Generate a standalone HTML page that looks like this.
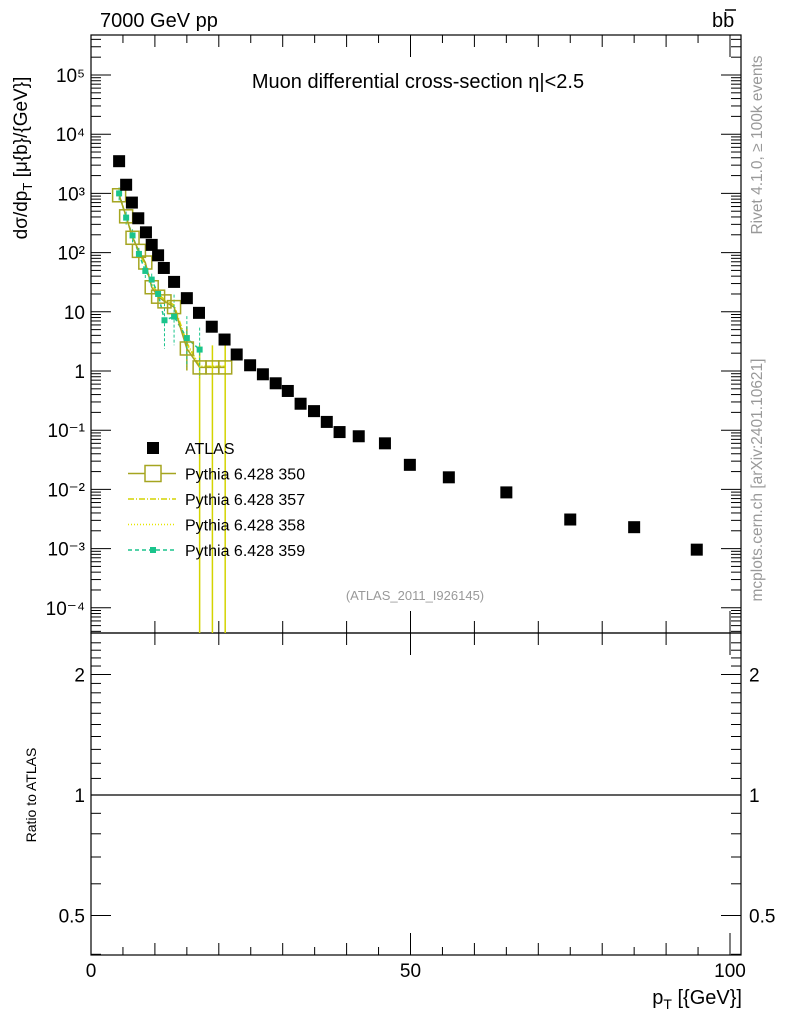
<!DOCTYPE html>
<html><head><meta charset="utf-8"><style>
body{margin:0;background:#fff}
svg{display:block;font-family:"Liberation Sans",sans-serif}
</style></head><body>
<svg id="c" width="786" height="1024" viewBox="0 0 786 1024" xmlns="http://www.w3.org/2000/svg">
<text x="100" y="27" font-size="20">7000 GeV pp</text>
<text x="712" y="27" font-size="20">bb</text>
<line x1="725" y1="10" x2="736" y2="10" stroke="#000" stroke-width="1.5"/>
<text x="418" y="88" font-size="20" text-anchor="middle">Muon differential cross-section η|&lt;2.5</text>
<text transform="translate(762,145) rotate(-90)" font-size="15.5" fill="#999" text-anchor="middle">Rivet 4.1.0, ≥ 100k events</text>
<text transform="translate(762,480) rotate(-90)" font-size="15.5" fill="#999" text-anchor="middle">mcplots.cern.ch [arXiv:2401.10621]</text>
<text transform="translate(27,158) rotate(-90)" font-size="19" text-anchor="middle">dσ/dp<tspan font-size="13" dy="5">T</tspan><tspan dy="-5"> [μ{b}/{GeV}]</tspan></text>
<text transform="translate(36,795) rotate(-90)" font-size="14" text-anchor="middle">Ratio to ATLAS</text>
<text x="415" y="600" font-size="13" fill="#999" text-anchor="middle">(ATLAS_2011_I926145)</text>
<text x="742" y="1004" font-size="20" text-anchor="end">p<tspan font-size="14" dy="5">T</tspan><tspan dy="-5"> [{GeV}]</tspan></text>
<g id="axes"></g>
<g id="marks"></g>
<g id="legend"></g>
</svg>
<script>
const atlasX=[4.4,5.5,6.4,7.4,8.6,9.5,10.5,11.4,13,15,16.9,18.9,20.9,22.8,24.9,26.9,28.9,30.8,32.8,34.9,36.9,38.9,41.9,46,49.9,56,65,75,85,94.8];
const atlasY=[3500,1400,700,380,220,135,90,55,32,17,9.6,5.6,3.4,1.9,1.25,0.88,0.62,0.46,0.28,0.21,0.138,0.093,0.079,0.06,0.026,0.016,0.0089,0.0031,0.0023,0.00096];
const mcX=[4.4,5.5,6.5,7.5,8.5,9.5,10.5,11.5,13,15,17,19,21];
const mc350=[930,410,178,107,68,26,18,15,12,2.4,1.15,1.15,1.15];
const mc357=[950,400,185,100,62,30,20,16,13,3,1.2,1.2,1.2];
const mc358=[940,405,180,104,65,28,19,15.5,12.5,2.8,1.2,1.2,1.2];
const mcX359=[4.4,5.5,6.5,7.5,8.5,9.5,10.5,11.5,13,15,17];
const mc359=[1000,390,195,95,49,35,20,7.2,8.3,3.6,2.3];
const yTicks=["10⁻⁴","10⁻³","10⁻²","10⁻¹","1","10","10²","10³","10⁴","10⁵"];
const ratioTicks=[0.5,1,2];
const xTicks=[0,50,100];

const NS="http://www.w3.org/2000/svg";
const L=91,R=741,T=35,MB=633,RB=955;
const xs=v=>L+v*6.39;
const ys=v=>371-Math.log10(v)*59.2;
const yr=v=>795-Math.log2(v)*120.5;
function mk(p,tag,a){const e=document.createElementNS(NS,tag);for(const k in a)e.setAttribute(k,a[k]);p.appendChild(e);return e;}
const ax=document.getElementById('axes'),mg=document.getElementById('marks'),lg=document.getElementById('legend');

let e;
e=mk(ax,'rect',{x:L,y:T,width:R-L,height:MB-T,fill:'none',stroke:'#000','stroke-width':1.2});


e=mk(ax,'rect',{x:L,y:MB,width:R-L,height:RB-MB,fill:'none',stroke:'#000','stroke-width':1.2});


for(let d=-5;d<=5;d++){for(let m=1;m<10;m++){const v=m*Math.pow(10,d);const y=ys(v);if(y<T||y>MB)continue;const len=m==1?20:10;
mk(ax,'line',{x1:L,x2:L+len,y1:y,y2:y,stroke:'#000'});mk(ax,'line',{x1:R,x2:R-len,y1:y,y2:y,stroke:'#000'});}}
yTicks.forEach((t,i)=>{const y=ys(Math.pow(10,i-4));
e=mk(ax,'text',{x:L-6,y:y+7,'font-size':19,'text-anchor':'end'});e.textContent=t;

});
for(let v=0;v<=100;v+=10){const big=v%50==0;const x=xs(v);const l=big?22:12;
mk(ax,'line',{x1:x,x2:x,y1:T,y2:T+l,stroke:'#000'});mk(ax,'line',{x1:x,x2:x,y1:MB,y2:MB-l,stroke:'#000'});
mk(ax,'line',{x1:x,x2:x,y1:MB,y2:MB+l,stroke:'#000'});mk(ax,'line',{x1:x,x2:x,y1:RB,y2:RB-l,stroke:'#000'});}
for(let v=5;v<100;v+=10){const x=xs(v);mk(ax,'line',{x1:x,x2:x,y1:T,y2:T+8,stroke:'#000'});mk(ax,'line',{x1:x,x2:x,y1:RB,y2:RB-8,stroke:'#000'});}
xTicks.forEach(v=>{e=mk(ax,'text',{x:xs(v),y:977,'font-size':19,'text-anchor':'middle'});e.textContent=v;

});
for(let v=0.4;v<=2.5;v+=0.1){const y=yr(v);if(y<MB||y>RB)continue;const big=[0.5,1,2].some(t=>Math.abs(t-v)<1e-6);const l=big?20:10;
mk(ax,'line',{x1:L,x2:L+l,y1:y,y2:y,stroke:'#000'});mk(ax,'line',{x1:R,x2:R-l,y1:y,y2:y,stroke:'#000'});}
ratioTicks.forEach(v=>{const y=yr(v);
e=mk(ax,'text',{x:L-6,y:y+7,'font-size':19,'text-anchor':'end'});e.textContent=v;


e=mk(ax,'text',{x:R+8,y:y+7,'font-size':19});e.textContent=v;

});
e=mk(mg,'line',{x1:L,x2:R,y1:yr(1),y2:yr(1),stroke:'#000','stroke-width':1.3});



function line(xsArr,vals,col,dash,name){const pts=xsArr.map((x,i)=>xs(x)+','+ys(vals[i])).join(' ');
const p=mk(mg,'polyline',{points:pts,fill:'none',stroke:col,'stroke-width':1.5,'stroke-dasharray':dash});

}
line(mcX,mc357,'#d4d400','6,2,1,2','series-357');
line(mcX,mc358,'#e6e600','1,2','series-358');
line(mcX359,mc359,'#1ac48c','4,3','series-359');
line(mcX,mc350,'#a5a520','','series-350');
mcX.forEach((x,i)=>{if(i<9)return;const X=xs(x);const y=ys(mc350[i]);
e=mk(mg,'line',{x1:X,x2:X,y1:y-22,y2:i==9?y+22:MB,stroke:i==9?'#a5a520':'#d4d400','stroke-width':1.5});

});
mcX359.forEach((x,i)=>{const X=xs(x);const y=ys(mc359[i]);const er=i>6?22:6;
e=mk(mg,'line',{x1:X,x2:X,y1:y-er,y2:y+er*1.3,stroke:'#1ac48c','stroke-dasharray':'3,2'});

});
mcX.forEach((x,i)=>{e=mk(mg,'rect',{x:xs(x)-6.5,y:ys(mc350[i])-6.5,width:13,height:13,fill:'none',stroke:'#a5a520','stroke-width':1.5});

});
mcX359.forEach((x,i)=>{e=mk(mg,'rect',{x:xs(x)-3,y:ys(mc359[i])-3,width:6,height:6,fill:'#1ac48c'});

});
atlasX.forEach((x,i)=>{e=mk(mg,'rect',{x:xs(x)-6,y:ys(atlasY[i])-6,width:12,height:12,fill:'#000'});

});

const names=['ATLAS','Pythia 6.428 350','Pythia 6.428 357','Pythia 6.428 358','Pythia 6.428 359'];
names.forEach((n,i)=>{const y=448+i*25.5;
if(i==0){mk(lg,'rect',{x:147,y:y-6,width:12,height:12,fill:'#000'});}
else{const col=['','#a5a520','#d4d400','#e6e600','#1ac48c'][i];const dash=['','','6,2,1,2','1,2','4,3'][i];
mk(lg,'line',{x1:128,x2:176,y1:y,y2:y,stroke:col,'stroke-width':1.5,'stroke-dasharray':dash});
if(i==1)mk(lg,'rect',{x:145,y:y-8,width:16,height:16,fill:'#fff',stroke:col,'stroke-width':1.5});
if(i==4)mk(lg,'rect',{x:150,y:y-3,width:6,height:6,fill:col});}
e=mk(lg,'text',{x:185,y:y+6,'font-size':16});e.textContent=n;

});
</script>
</body></html>
